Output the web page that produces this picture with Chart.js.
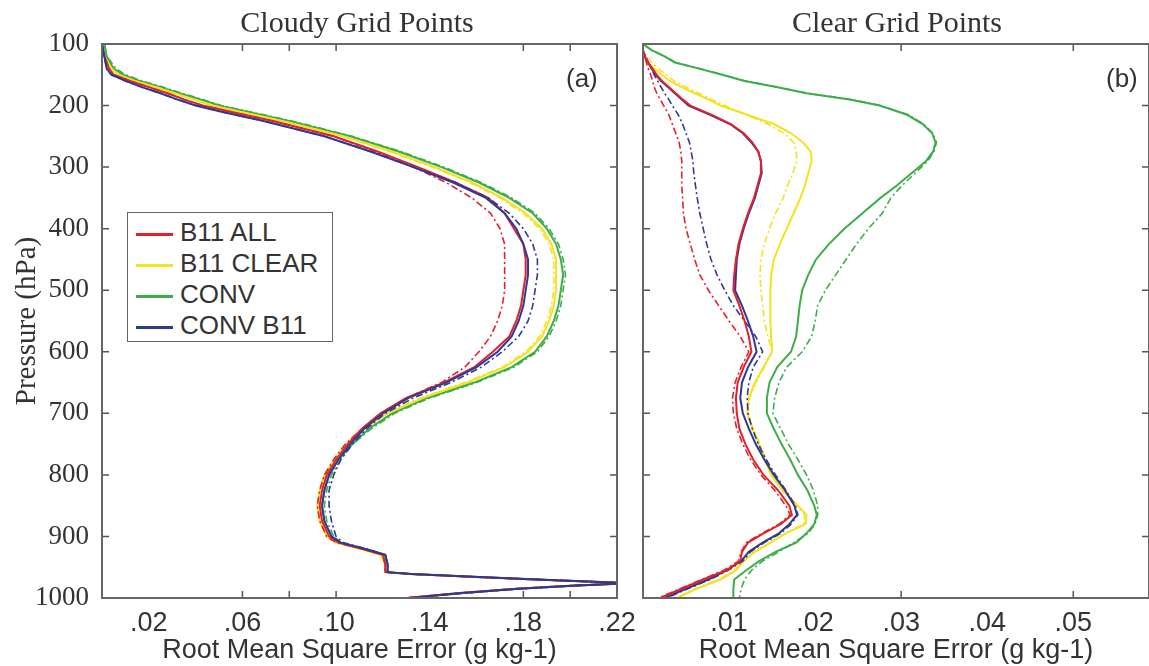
<!DOCTYPE html>
<html>
<head>
<meta charset="utf-8">
<script src="https://cdn.jsdelivr.net/npm/chart.js@4.4.1/dist/chart.umd.min.js"></script>
<style>
  body { margin: 0; background: #fff; width: 1149px; height: 666px; overflow: hidden; position: relative; }
  canvas { position: absolute; top: 0; }
  #grafA { left: 0; }
  #grafB { left: 620px; }
  .titulo { position: absolute; top: 4px; font-size: 30px; line-height: 36px; font-family: "Liberation Serif", serif; color: #333; transform: translateX(-50%); white-space: nowrap; }
  .panel { position: absolute; top: 62px; font-size: 26px; line-height: 32px; font-family: "Liberation Sans", sans-serif; color: #333; }
  #leyenda { position: absolute; left: 127px; top: 212px; width: 206px; height: 130px; border: 1.5px solid #666; background: #fff; padding-top: 4px; box-sizing: border-box; }
  .fila { height: 31px; line-height: 31px; font-size: 26px; font-family: "Liberation Sans", sans-serif; color: #333; white-space: nowrap; }
  .muestra { display: inline-block; width: 37px; height: 3px; margin: 0 7px 0 8px; vertical-align: middle; }
</style>
</head>
<body>
<canvas id="grafA" width="640" height="666"></canvas>
<canvas id="grafB" width="529" height="666"></canvas>
<div class="titulo" style="left:357px">Cloudy Grid Points</div>
<div class="titulo" style="left:897px">Clear Grid Points</div>
<div class="panel" style="left:566px">(a)</div>
<div class="panel" style="left:1106px">(b)</div>
<div id="leyenda"></div>
<script>
// Niveles de presion (hPa) de cada panel
const presionesA = [100, 120, 140, 150, 160, 170, 180, 190, 200, 210,
  225, 250, 275, 300, 325, 350, 375, 400, 425, 450, 475, 500, 525, 550, 575, 600, 625, 650, 675, 700, 725, 750, 775, 800, 825, 850, 875, 900,
  910, 920, 930, 945, 958, 961, 966, 970, 974, 976, 980, 985, 992, 1000];

const presionesB = [100, 110, 120, 130, 140, 150, 160, 170, 180, 190, 200,
  215, 230, 245, 260, 275, 290, 310, 330, 350,
  375, 400, 425, 450, 475, 500, 525, 550, 575, 600, 625, 650, 675, 700, 725, 750, 775, 800, 825, 850,
  865, 880, 895, 910, 925, 940, 955, 970, 985, 1000];

// Panel (a): puntos nublados
const rojoA = [.000, .001, .003, .005, .012, .020, .028, .035, .043, .055,
  .073, .099, .118, .135, .151, .165, .172, .176, .180, .181, .181, .180, .179, .177, .174, .167, .159, .146, .130, .119, .111, .105, .100, .096, .094, .093, .094, .097,
  .101, .111, .120, .121, .121, .132, .160, .185, .212, .224, .200, .177, .153, .130];
const rojoA2 = [.000, .001, .003, .005, .012, .020, .028, .035, .043, .055,
  .073, .099, .117, .133, .147, .158, .166, .170, .172, .172, .172, .172, .171, .169, .166, .161, .155, .145, .130, .119, .111, .104, .099, .095, .093, .092, .093, .096,
  .100, .111, .120, .121, .121, .131, .159, .184, .211, .224, .199, .176, .152, .129];
const amarilloA = [.000, .001, .004, .007, .014, .023, .031, .039, .047, .059,
  .077, .103, .124, .142, .158, .171, .181, .188, .192, .194, .194, .194, .193, .191, .188, .182, .172, .156, .137, .122, .112, .105, .100, .095, .093, .092, .093, .096,
  .100, .110, .119, .121, .121, .131, .160, .185, .212, .224, .200, .177, .153, .130];
const amarilloA2 = [.000, .001, .004, .007, .014, .023, .031, .039, .047, .059,
  .077, .103, .123, .141, .157, .170, .180, .187, .191, .193, .193, .193, .192, .190, .187, .181, .171, .155, .136, .121, .111, .104, .099, .095, .093, .092, .093, .096,
  .100, .110, .119, .121, .121, .131, .160, .185, .212, .224, .200, .177, .153, .130];
const verdeA = [.001, .002, .005, .009, .016, .025, .033, .042, .050, .062,
  .080, .106, .127, .145, .161, .174, .184, .190, .194, .196, .197, .196, .195, .193, .190, .185, .175, .159, .139, .124, .114, .107, .101, .097, .095, .094, .095, .098,
  .102, .112, .121, .122, .122, .132, .161, .186, .213, .224, .201, .178, .154, .131];
const verdeA2 = [.001, .002, .006, .010, .017, .026, .034, .043, .051, .063,
  .081, .107, .128, .146, .162, .175, .185, .191, .195, .197, .198, .197, .196, .194, .191, .186, .176, .160, .140, .125, .115, .107, .102, .098, .096, .095, .096, .099,
  .102, .112, .121, .122, .122, .132, .161, .186, .213, .224, .201, .178, .154, .131];
const azulA = [.000, .001, .002, .004, .010, .017, .025, .032, .040, .051,
  .069, .095, .115, .133, .150, .164, .172, .177, .180, .182, .182, .181, .180, .178, .175, .169, .160, .147, .131, .120, .112, .106, .101, .097, .095, .094, .095, .098,
  .102, .112, .121, .122, .122, .132, .161, .186, .213, .224, .201, .178, .154, .131];
const azulA2 = [.000, .001, .002, .004, .010, .017, .025, .032, .040, .051,
  .069, .095, .115, .133, .151, .165, .174, .180, .184, .186, .186, .185, .184, .182, .178, .171, .162, .149, .133, .121, .113, .107, .102, .099, .097, .097, .098, .100,
  .103, .113, .121, .122, .122, .133, .162, .187, .214, .224, .202, .179, .155, .132];

// Panel (b): puntos despejados
const rojoB = [.0000, .0000, .0002, .0006, .0011, .0016, .0022, .0030, .0038, .0046, .0055,
  .0080, .0102, .0117, .0127, .0134, .0137, .0137, .0133, .0129,
  .0122, .0116, .0111, .0108, .0106, .0105, .0112, .0118, .0123, .0126, .0117, .0110, .0108, .0109, .0112, .0119, .0128, .0140, .0157, .0170,
  .0173, .0160, .0140, .0122, .0115, .0113, .0097, .0070, .0045, .0020];
const rojoB2 = [.0000, .0000, .0002, .0004, .0006, .0009, .0011, .0013, .0016, .0020, .0024,
  .0030, .0034, .0038, .0042, .0044, .0045, .0045, .0045, .0046,
  .0047, .0050, .0055, .0060, .0066, .0076, .0088, .0100, .0113, .0123, .0114, .0107, .0104, .0105, .0109, .0116, .0125, .0137, .0153, .0166,
  .0171, .0158, .0138, .0120, .0114, .0111, .0094, .0068, .0043, .0018];
const amarilloB = [.0000, .0000, .0002, .0005, .0013, .0022, .0031, .0045, .0060, .0076, .0090,
  .0121, .0152, .0172, .0186, .0195, .0196, .0192, .0188, .0183,
  .0175, .0167, .0159, .0152, .0149, .0148, .0148, .0148, .0149, .0150, .0140, .0130, .0123, .0121, .0127, .0135, .0141, .0149, .0162, .0180,
  .0190, .0189, .0166, .0148, .0130, .0117, .0108, .0090, .0062, .0040];
const amarilloB2 = [.0000, .0000, .0004, .0010, .0018, .0027, .0036, .0050, .0065, .0080, .0095,
  .0120, .0145, .0164, .0175, .0178, .0179, .0174, .0168, .0163,
  .0154, .0147, .0141, .0137, .0136, .0137, .0139, .0141, .0145, .0150, .0141, .0131, .0124, .0122, .0128, .0136, .0143, .0151, .0163, .0179,
  .0188, .0187, .0165, .0147, .0129, .0116, .0106, .0088, .0060, .0038];
const verdeB = [.0000, .0010, .0025, .0037, .0065, .0092, .0118, .0155, .0190, .0240, .0275,
  .0307, .0325, .0336, .0340, .0337, .0329, .0312, .0295, .0276,
  .0255, .0234, .0216, .0201, .0192, .0185, .0182, .0180, .0178, .0172, .0156, .0147, .0144, .0144, .0152, .0161, .0171, .0180, .0191, .0199,
  .0202, .0199, .0190, .0178, .0154, .0135, .0120, .0106, .0105, .0105];
const verdeB2 = [.0000, .0010, .0025, .0038, .0066, .0093, .0119, .0156, .0191, .0241, .0276,
  .0308, .0326, .0337, .0341, .0338, .0331, .0316, .0301, .0288,
  .0278, .0262, .0248, .0236, .0224, .0212, .0203, .0200, .0196, .0185, .0167, .0158, .0153, .0151, .0160, .0169, .0180, .0190, .0198, .0203,
  .0203, .0200, .0192, .0175, .0158, .0139, .0126, .0118, .0114, .0112];
const azulB = [.0000, .0000, .0002, .0006, .0010, .0015, .0021, .0029, .0037, .0045, .0053,
  .0078, .0101, .0116, .0126, .0134, .0137, .0138, .0134, .0130,
  .0123, .0117, .0112, .0109, .0108, .0107, .0115, .0122, .0128, .0132, .0122, .0115, .0113, .0116, .0123, .0131, .0141, .0152, .0165, .0176,
  .0179, .0170, .0158, .0139, .0123, .0114, .0097, .0076, .0050, .0025];
const azulB2 = [.0000, .0000, .0003, .0006, .0010, .0013, .0017, .0021, .0025, .0030, .0034,
  .0041, .0046, .0050, .0054, .0056, .0058, .0059, .0061, .0063,
  .0066, .0070, .0074, .0079, .0086, .0095, .0105, .0118, .0131, .0139, .0128, .0123, .0121, .0122, .0127, .0134, .0143, .0154, .0166, .0177,
  .0180, .0172, .0160, .0141, .0125, .0116, .0099, .0078, .0052, .0027];

// Etiquetas de los ejes
const ticksXA = [0.02, 0.06, 0.10, 0.14, 0.18, 0.22];
const ticksXB = [0.01, 0.02, 0.03, 0.04, 0.05];
const marcasXA = [0.06, 0.08, 0.10, 0.18, 0.20];
const marcasXB = [0.03, 0.05];
const marcasY = [200, 300, 400, 500, 600, 700, 800, 900];

const nombres = ['B11 ALL', 'B11 CLEAR', 'CONV', 'CONV B11'];
const colores = ['#e5202a', '#f3e31c', '#3cae48', '#2d3a93'];

const fuenteSans = '"Liberation Sans", sans-serif';
const fuenteSerif = '"Liberation Serif", serif';

// Marco del grafico y marcas interiores
const marcoPlugin = {
    id: 'marco',
    afterDatasetsDraw(chart, args, opts) {
        const { ctx, chartArea: ca, scales } = chart;
        ctx.save();
        ctx.strokeStyle = '#555';
        ctx.lineWidth = 1.5;
        opts.marcasX.forEach(v => {
            const px = scales.x.getPixelForValue(v);
            ctx.beginPath();
            ctx.moveTo(px, ca.bottom); ctx.lineTo(px, ca.bottom - 7);
            ctx.moveTo(px, ca.top); ctx.lineTo(px, ca.top + 7);
            ctx.stroke();
        });
        opts.marcasY.forEach(v => {
            const py = scales.y.getPixelForValue(v);
            ctx.beginPath();
            ctx.moveTo(ca.left, py); ctx.lineTo(ca.left + 7, py);
            ctx.moveTo(ca.right, py); ctx.lineTo(ca.right - 7, py);
            ctx.stroke();
        });
        ctx.strokeStyle = '#666';
        ctx.lineWidth = 2;
        ctx.strokeRect(ca.left, ca.top, ca.right - ca.left, ca.bottom - ca.top);
        ctx.restore();
    }
};

function armarDatasets(presiones, series) {
    return series.map(s => ({
        label: nombres[s.n] + (s.disc ? ' (dash)' : ''),
        data: s.valores.map((v, k) => ({ x: v, y: presiones[k] })),
        borderColor: colores[s.n],
        borderWidth: s.disc ? 1.6 : 2,
        borderDash: s.disc ? [7, 3, 2, 3] : [],
        showLine: true,
        pointRadius: 0,
        tension: 0,
        order: s.orden
    }));
}

function crearPanel(id, presiones, series, xMax, ticksX, marcasX, conEjeY) {
    new Chart(document.getElementById(id), {
        type: 'scatter',
        data: { datasets: armarDatasets(presiones, series) },
        options: {
            responsive: false,
            animation: false,
            events: [],
            layout: { padding: { top: 44, right: conEjeY ? 23 : 0, left: conEjeY ? 0 : 23, bottom: 0 } },
            plugins: {
                legend: { display: false },
                tooltip: { enabled: false },
                marco: { marcasX: marcasX, marcasY: marcasY }
            },
            scales: {
                x: {
                    type: 'linear',
                    min: 0,
                    max: xMax,
                    afterBuildTicks: scale => { scale.ticks = ticksX.map(v => ({ value: v })); },
                    afterFit: scale => { scale.height = 68; },
                    grid: { display: false },
                    border: { display: false },
                    ticks: {
                        autoSkip: false,
                        maxRotation: 0,
                        padding: 1,
                        color: '#333',
                        font: { family: fuenteSans, size: 27 },
                        callback: v => v.toFixed(2).slice(1)
                    },
                    title: {
                        display: true,
                        text: 'Root Mean Square Error (g kg-1)',
                        color: '#333',
                        font: { family: fuenteSans, size: 27 },
                        padding: { top: 0, bottom: -1 }
                    }
                },
                y: {
                    type: 'linear',
                    display: conEjeY,
                    reverse: true,
                    min: 100,
                    max: 1000,
                    afterFit: scale => { scale.width = conEjeY ? 102 : 0; },
                    grid: { display: false },
                    border: { display: false },
                    ticks: {
                        stepSize: 100,
                        padding: 5,
                        color: '#333',
                        font: { family: fuenteSerif, size: 27 },
                        callback: v => String(v)
                    },
                    title: {
                        display: true,
                        text: 'Pressure (hPa)',
                        color: '#333',
                        font: { family: fuenteSerif, size: 29 },
                        padding: { top: 10, bottom: 0 }
                    }
                }
            }
        },
        plugins: [marcoPlugin]
    });
}

// n: indice del nombre/color, disc: linea discontinua
crearPanel('grafA', presionesA, [
    { n: 2, valores: verdeA, disc: false, orden: 8 },
    { n: 2, valores: verdeA2, disc: true, orden: 7 },
    { n: 1, valores: amarilloA, disc: false, orden: 6 },
    { n: 1, valores: amarilloA2, disc: true, orden: 5 },
    { n: 0, valores: rojoA, disc: false, orden: 4 },
    { n: 0, valores: rojoA2, disc: true, orden: 3 },
    { n: 3, valores: azulA, disc: false, orden: 2 },
    { n: 3, valores: azulA2, disc: true, orden: 1 }
], 0.22, ticksXA, marcasXA, true);

crearPanel('grafB', presionesB, [
    { n: 2, valores: verdeB, disc: false, orden: 8 },
    { n: 2, valores: verdeB2, disc: true, orden: 7 },
    { n: 1, valores: amarilloB, disc: false, orden: 6 },
    { n: 1, valores: amarilloB2, disc: true, orden: 5 },
    { n: 0, valores: rojoB, disc: false, orden: 2 },
    { n: 0, valores: rojoB2, disc: true, orden: 1 },
    { n: 3, valores: azulB, disc: false, orden: 4 },
    { n: 3, valores: azulB2, disc: true, orden: 3 }
], 0.0588, ticksXB, marcasXB, false);

// Leyenda del panel (a)
const leyenda = document.getElementById('leyenda');
nombres.forEach((nombre, i) => {
    const fila = document.createElement('div');
    fila.className = 'fila';
    fila.innerHTML = '<span class="muestra" style="background:' + colores[i] + '"></span>' + nombre;
    leyenda.appendChild(fila);
});
</script>
</body>
</html>
